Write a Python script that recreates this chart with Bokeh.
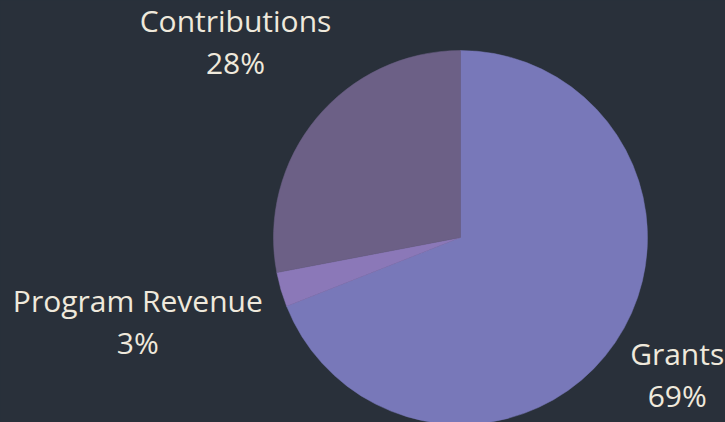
import math
from bokeh.plotting import figure
from bokeh.models import ColumnDataSource, Range1d
from bokeh.core.properties import value
from bokeh.embed import file_html
from bokeh.resources import INLINE

# ---- data ----
categories = ["Grants", "Program Revenue", "Contributions"]
shares = [69, 3, 28]
colors = ["#7878b9", "#8b78b8", "#6c6086"]

# ---- layout / style ----
W, H = 725, 422
BG = "#29303a"
TXT = "#efe9dc"
FONT = "Open Sans"
cx, cy, R = 460, 422 - 237, 187
label_dist = [262, 336, 292]

total = float(sum(shares))
starts, ends, mids = [], [], []
cum = 0.0
for v in shares:
    a0 = math.pi / 2 - 2 * math.pi * cum / total
    cum += v
    a1 = math.pi / 2 - 2 * math.pi * cum / total
    starts.append(a1)
    ends.append(a0)
    mids.append((a0 + a1) / 2)

src = ColumnDataSource(dict(
    x=[cx] * len(shares), y=[cy] * len(shares),
    start=starts, end=ends, color=colors,
))

lx = [cx + d * math.cos(m) for d, m in zip(label_dist, mids)]
ly = [cy + d * math.sin(m) for d, m in zip(label_dist, mids)]
pct = [f"{round(v / total * 100)}%" for v in shares]
lab = ColumnDataSource(dict(x=lx, y=ly, name=categories, pct=pct))

p = figure(width=W, height=H, output_backend="svg", toolbar_location=None,
           x_range=Range1d(0, W), y_range=Range1d(0, H),
           min_border=0, outline_line_color=None,
           background_fill_color=BG, border_fill_color=BG)
p.axis.visible = False
p.grid.visible = False

p.wedge(x="x", y="y", radius=R, start_angle="start", end_angle="end",
        fill_color="color", line_color="color", line_width=0.5, source=src)

p.text(x="x", y="y", text="name", source=lab, y_offset=-31,
       text_align="center", text_baseline="alphabetic",
       text_font=value(FONT), text_font_size="30px", text_color=TXT)
p.text(x="x", y="y", text="pct", source=lab, y_offset=11,
       text_align="center", text_baseline="alphabetic",
       text_font=value(FONT), text_font_size="30px", text_color=TXT)

html = file_html(p, INLINE)
style = f"<style>html,body{{margin:0;padding:0;background:{BG};overflow:hidden;}}</style>"
html = html.replace("</head>", style + "</head>", 1)
open("out.html", "w").write(html)
